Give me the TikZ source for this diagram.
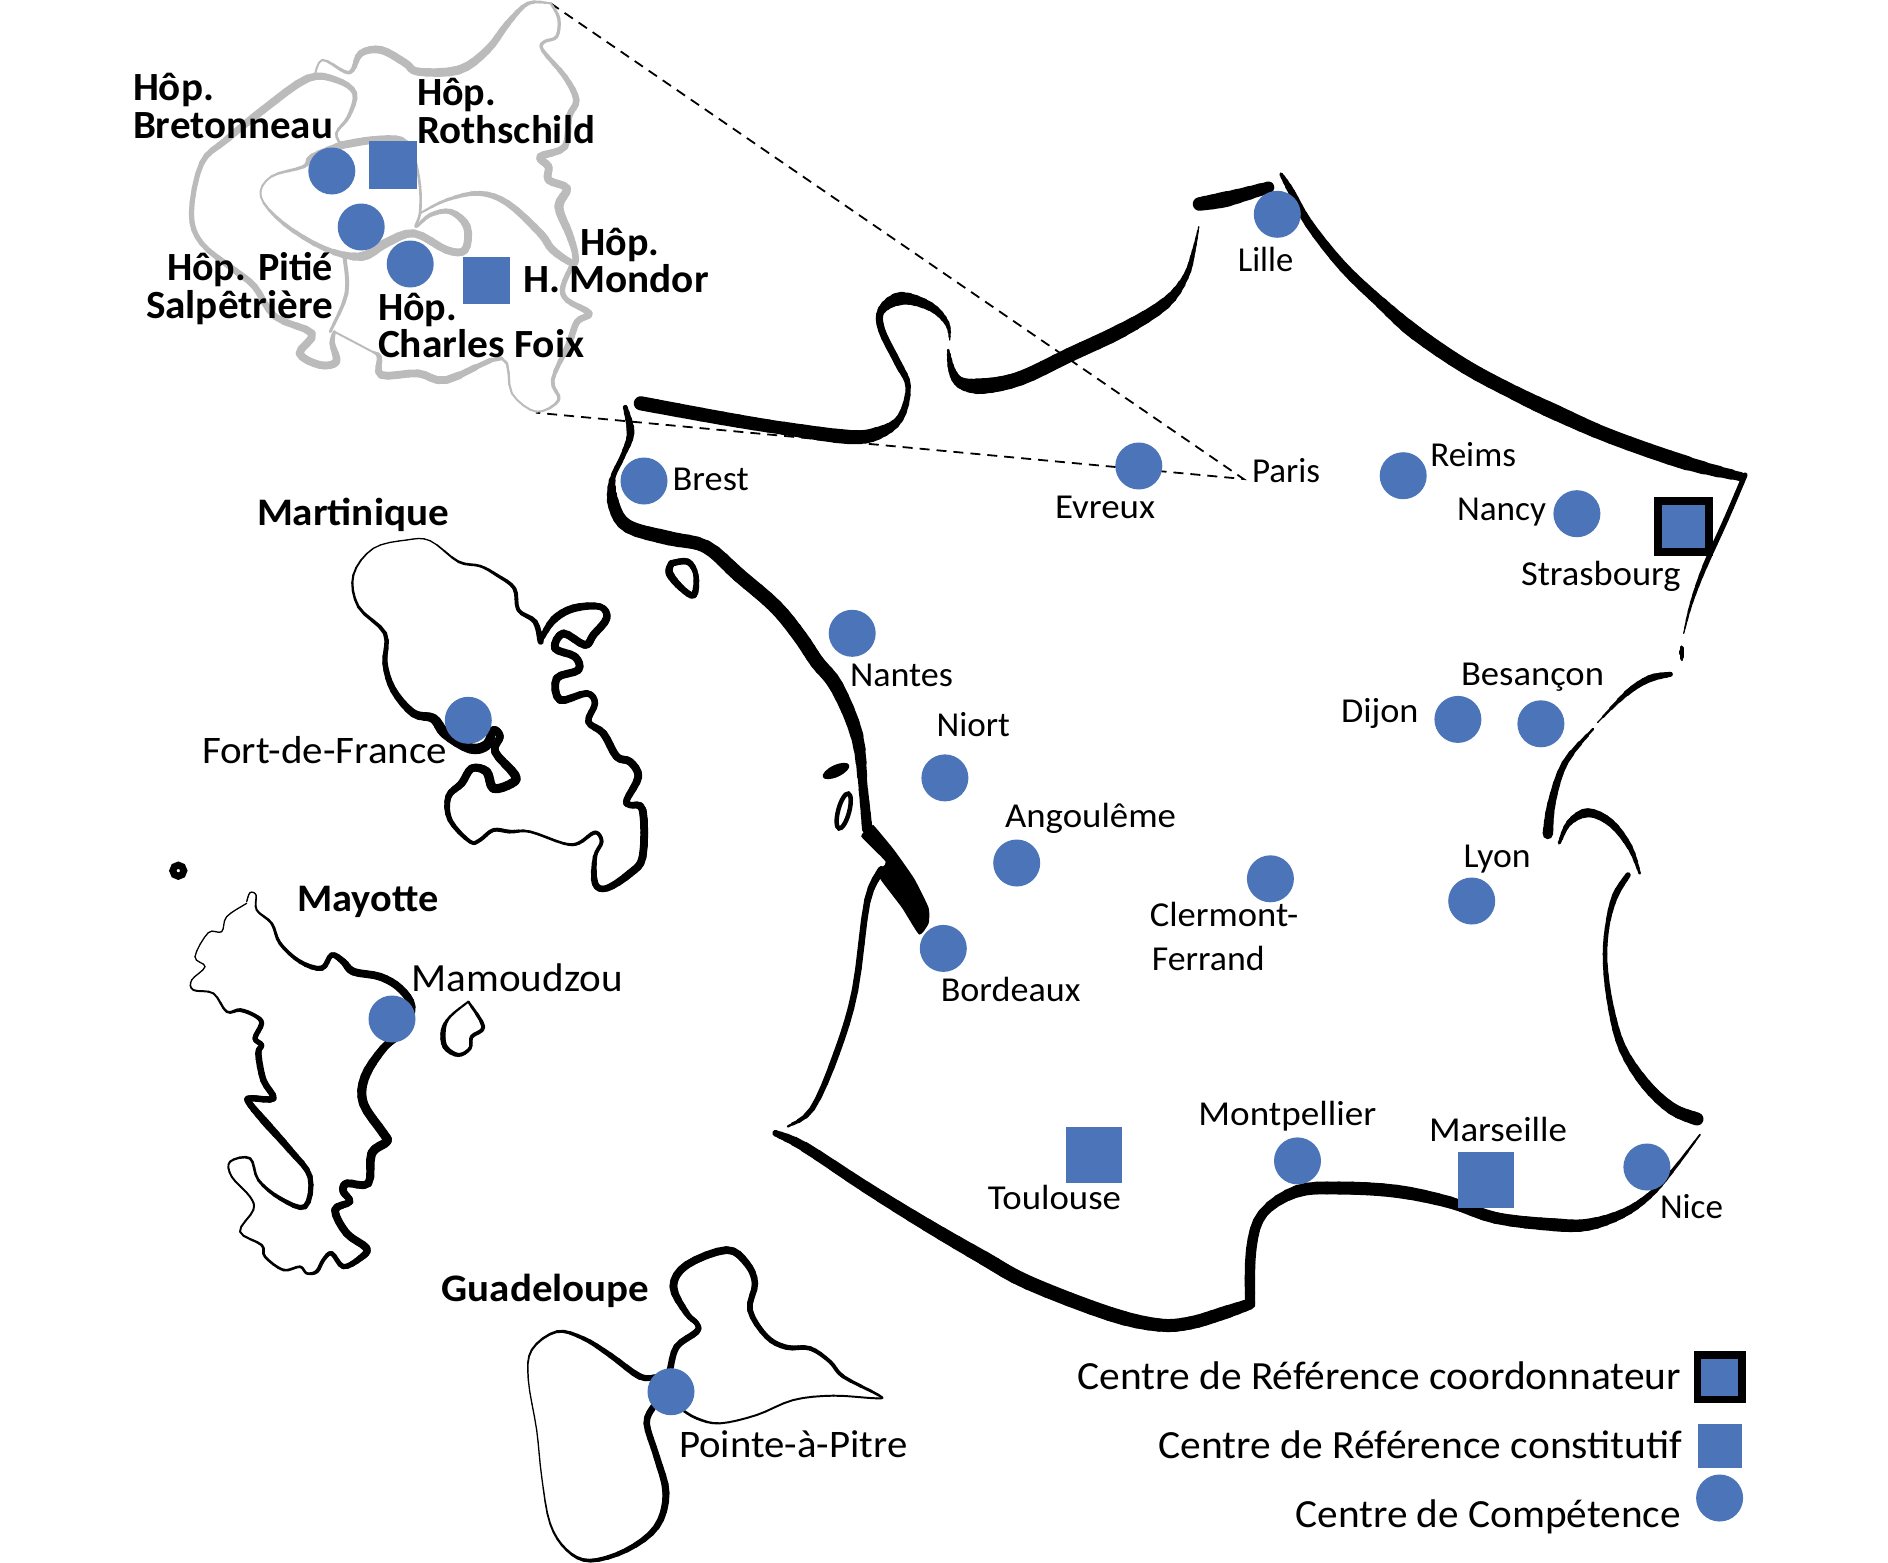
\documentclass[tikz,border=0pt]{standalone}
\usepackage{graphicx}
\usepackage{fontspec}
\setmainfont{Carlito}
\definecolor{cblue}{HTML}{4C75B9}
\definecolor{cgray}{HTML}{BBBBBB}
\tikzset{
  comp/.style={circle,fill=cblue,draw=none,minimum size=47pt,inner sep=0pt},
  crefsq/.style={rectangle,fill=cblue,draw=none,inner sep=0pt,minimum size=#1},
  coordsq/.style={rectangle,fill=cblue,draw=black,line width=8pt,inner sep=0pt,minimum size=#1},
  zoomline/.style={black,line width=1.8pt,dash pattern=on 10pt off 7pt},
  txt/.style={anchor=base west,inner sep=0pt,outer sep=0pt,text=black}
}
\def\bscale{1.3}
% one stretch of a variable-width stroke (Catmull-Rom)
\newcommand\bseg[1]{%
  \xdef\pLx{\pBx}\xdef\pLy{\pBy}%
  \foreach \tt in {0.25,0.5,0.75,1}{%
    \pgfmathsetmacro\px{\pBx+0.5*\tt*((\pCx-\pAx)+\tt*((2*\pAx-5*\pBx+4*\pCx-\pDx)+\tt*(3*\pBx-\pAx-3*\pCx+\pDx)))}%
    \pgfmathsetmacro\py{\pBy+0.5*\tt*((\pCy-\pAy)+\tt*((2*\pAy-5*\pBy+4*\pCy-\pDy)+\tt*(3*\pBy-\pAy-3*\pCy+\pDy)))}%
    \pgfmathsetmacro\pw{\bscale*(\pBw+\tt*(\pCw-\pBw))}%
    \draw[#1,line width=\pw pt,line cap=round] (\pLx,\pLy) -- (\px,\py);%
    \xdef\pLx{\px}\xdef\pLy{\py}%
  }%
}
% #1 colour, #2 #3 origin, #4 #5 divisors, #6 list x/y/width
\newcommand\brush[6]{%
  \gdef\bn{0}%
  \foreach \rx/\ry/\rw in {#6}{%
    \pgfmathsetmacro\tx{#2+\rx/#4}\pgfmathsetmacro\ty{#3+\ry/#5}%
    \ifnum\bn=0
      \xdef\pAx{\tx}\xdef\pAy{\ty}\xdef\pBx{\tx}\xdef\pBy{\ty}\xdef\pBw{\rw}\gdef\bn{1}%
    \else\ifnum\bn=1
      \xdef\pCx{\tx}\xdef\pCy{\ty}\xdef\pCw{\rw}\gdef\bn{2}%
    \else
      \xdef\pDx{\tx}\xdef\pDy{\ty}%
      \bseg{#1}%
      \xdef\pAx{\pBx}\xdef\pAy{\pBy}%
      \xdef\pBx{\pCx}\xdef\pBy{\pCy}\xdef\pBw{\pCw}%
      \xdef\pCx{\tx}\xdef\pCy{\ty}\xdef\pCw{\rw}%
    \fi\fi
  }%
  \xdef\pDx{\pCx}\xdef\pDy{\pCy}%
  \bseg{#1}%
}
% label: [font extras] name, x, baseline, width, size, text
\newcommand\lab[7][]{%
  \node[txt] (#2) at (#3,#4) {\resizebox{#5pt}{\height}{\fontsize{#6pt}{#6pt}\selectfont#1{}#7}};%
}
\begin{document}
\begin{tikzpicture}[x=1pt,y=-1pt]
\useasboundingbox (0,0) rectangle (1888,1563);
\fill[white] (0,0) rectangle (1888,1563);

% zoom lines
\coordinate (zt) at (550.6,3.3);
\coordinate (zb) at (536,412.7);
\coordinate (zp) at (1243.6,479);
\draw[zoomline] (zt) -- (zp) -- (zb);

% mainland coast
\brush{black}{0}{0}{1}{1}{640.8/403.3/11, 722.4/418.3/10.5, 783.7/428.3/10, 849/437/11, 877.6/433.3/10, 900/418.3/6, 908.2/386.7/4, 898/363.3/5.5, 881.6/330/5.5, 881.6/310/5.5, 902/298.3/10, 930.6/306.7/7, 947/323.3/4, 949.8/340/1}
\brush{black}{0}{0}{1}{1}{948.2/350/1, 951.8/370/5, 961/383/8, 983.7/386/12, 1020.4/378.3/11, 1069.4/355/11, 1122.4/330/11, 1165.3/303.3/9, 1185.7/276.7/5, 1193.9/250/3, 1198.8/226.7/1}
\brush{black}{1190}{170}{2.613}{3}{25/102/10, 100/86/12, 205/52/9}
\brush{black}{0}{0}{1}{1}{1281/174/2, 1291.4/191.7/5, 1308.6/223.3/6.5, 1343/266.7/7.5, 1381.4/303.3/8.5, 1415.8/333/11, 1465.5/366.7/11, 1515.3/393.3/11, 1557.4/413.3/12, 1611/436.7/11, 1687.5/463.3/11, 1741/476.7/7}
\brush{black}{0}{0}{1}{1}{1745/475/4, 1725.8/520/4, 1704.7/566.7/4, 1691.3/603.3/2.5, 1683.7/633.3/1}
\brush{black}{0}{0}{1}{1}{1681.8/647/2, 1681.8/653.3/4, 1681.8/660/2}
\brush{black}{0}{0}{1}{1}{1670.3/674.3/3.5, 1649.2/678.8/5.5, 1626.3/693.5/4.5, 1597.6/722.5/1}
\brush{black}{0}{0}{1}{1}{1593/729/1, 1565/762.7/4.5, 1551.6/802.9/6, 1547.8/834/8}
\brush{black}{0}{0}{1}{1}{1559.3/843/2, 1568.9/823/4, 1588/812.7/7, 1611/823/6, 1630/847.5/4.5, 1639.7/873.4/2}
\brush{black}{0}{0}{1}{1}{1628/875/4, 1614.8/896.6/5, 1607/928/3.5, 1605.2/963.6/3.5, 1611/1008/4.5, 1622.5/1048.4/6, 1645.4/1084/8, 1672/1108.7/9, 1697/1119/10}
\brush{black}{0}{0}{1}{1}{1700/1134.6/1, 1672.2/1171/2.5, 1649.2/1195.7/4.5, 1622.5/1213.6/6.5, 1588/1224.7/9, 1553.6/1224.7/10, 1496/1218/9, 1450/1202.4/9, 1396.7/1191.3/10, 1339/1188/10, 1297/1191.3/9.5, 1262.7/1213.6/7.5, 1251.2/1249.3/8, 1250/1302.9/8}
\brush{black}{0}{0}{1}{1}{1250/1304/8, 1220.6/1314/10, 1190/1323/10, 1159/1325/10, 1110/1314/11, 1028.6/1282.8/11, 983.7/1258/11, 926.5/1224.7/10, 865.3/1186.8/9, 804/1146.6/8, 775.5/1133.2/5}
\brush{black}{0}{0}{1}{1}{787.8/1126.5/1, 812.2/1108.7/4, 836.7/1052.9/5, 855/990.4/5, 867.3/901/5, 881.6/869.8/6}
\fill[black] plot[smooth cycle,tension=.3] coordinates {(873.5,825.2) (893.9,849.7) (914.3,878.8) (928.6,907.8) (928.6,923.4) (919.2,934.6) (902,907.8) (881.6,881) (877.6,872) (885.7,861.8) (861.2,836.3) (871.4,827.4)};
\brush{black}{0}{0}{1}{1}{625.3/407.3/3, 630.6/433.3/6, 622.4/456.7/4, 612.2/480/4, 614.3/506.7/9, 628.6/526.7/10, 669.4/538.3/11, 706/546.7/10, 738.8/575/11, 775.5/606.7/11, 800/636.7/11, 817/662/11, 836.7/686.8/11, 857/735.9/10, 863.3/789.5/7, 867.3/829.6/8}

% coastal islands
\brush{black}{0}{0}{1}{1}{671.4/563.3/5, 687.8/561.7/5, 695.9/575/4, 693.9/595/5, 681.6/588.3/5, 669.4/573.3/6, 671.4/563.3/5}
\fill[black,rotate around={25:(836,771)}] (836,771) ellipse [x radius=14.5,y radius=6];
\draw[black,line width=4.5pt,rotate around={75:(843.7,811)}] (843.7,811) ellipse [x radius=18,y radius=5.5];
\draw[black,line width=7pt] (178.3,870.7) ellipse [x radius=5.5,y radius=5.5];

% Paris region
\brush{cgray}{120}{0}{2.45}{3}{1055/10/1.5, 1075/55/2.5, 1070/110/2.5, 1040/125/2.5, 1035/150/2.5, 1090/230/4, 1118/300/5, 1100/350/5, 1090/440/5, 1030/470/6, 1050/500/6, 1050/540/6, 1095/565/6, 1075/620/7, 1100/700/6, 1115/760/5, 1110/790/5, 1060/750/6, 1030/700/6, 950/610/5, 880/580/4, 800/600/2.5, 735/640/1.5}
\brush{cgray}{120}{0}{2.45}{3}{1110/790/4, 1085/860/4, 1095/900/4, 1150/940/5, 1120/965/5, 1100/1030/5, 1060/1140/3, 1075/1200/2.5, 1020/1235/1.5, 960/1180/1.5, 935/1075/2, 800/1140/6, 730/1120/6, 640/1125/6, 635/1070/4, 610/1050/1.5, 525/995/1.5}
\brush{cgray}{120}{0}{2.45}{3}{525/995/2, 520/1030/4, 530/1085/6, 490/1095/6, 440/1060/6, 470/1000/6, 380/950/5, 330/860/5, 280/810/5, 200/730/4, 175/640/4, 200/490/4, 260/420/5, 350/330/6, 460/235/6, 530/240/5, 575/280/4, 560/350/3, 530/400/2, 545/440/2}
\brush{cgray}{120}{0}{2.45}{3}{515/995/2, 555/880/3, 550/770/3}
\brush{cgray}{120}{0}{2.45}{3}{475/235/1.5, 495/180/1.5, 550/215/2.5, 570/210/3, 590/160/5, 640/150/6, 700/190/6, 730/215/6, 830/210/7, 900/150/6, 950/70/5, 1000/10/3, 1055/10/1.5}
\brush{cgray}{120}{0}{2.45}{3}{545/435/6, 620/420/6, 690/420/5, 720/470/2, 735/560/2, 735/640/2, 725/680/2, 760/645/3, 810/635/4, 850/680/6, 845/750/6, 800/750/6, 720/700/6, 650/730/7, 590/770/7, 500/745/4, 400/670/3, 345/590/1.5, 370/530/1.5, 450/500/2.5, 470/470/4, 545/435/6}

% Martinique
\brush{black}{330}{500}{3}{3}{632/425/5, 615/365/4, 565/330/3, 553/265/3, 500/225/2.5, 450/198/2, 385/185/2, 300/122/1, 230/120/1, 130/145/1, 70/225/1.5, 85/320/2, 165/400/3, 165/490/4, 190/570/5, 250/640/6, 310/655/7, 345/700/8, 420/745/8, 470/735/8, 490/690/6, 510/710/6, 495/755/6, 555/825/7, 545/850/7, 490/865/7, 470/815/7, 425/805/6, 395/850/6, 355/890/5, 360/960/4, 420/1025/3, 450/1020/3, 490/990/3, 540/995/3, 600/995/2, 700/1030/2, 745/1030/2.5, 795/997/3, 815/1025/3, 795/1070/3, 795/1150/5, 830/1165/5, 900/1120/6, 938/1070/6, 938/930/6, 900/915/5, 890/900/5, 925/830/6, 900/785/6, 860/770/6, 820/700/6, 775/665/5, 795/610/5, 770/580/5, 690/600/6, 680/535/6, 745/510/6, 735/470/6, 675/445/6, 700/400/6, 765/435/6, 790/405/6, 830/355/6, 810/320/5, 730/325/6, 670/360/6, 632/420/4}

% Mayotte
\brush{black}{150}{840}{3}{3}{290/185/1, 300/158/1, 318/165/1, 320/210/1.5, 365/250/2, 390/310/2.5, 450/365/3, 515/385/4, 545/345/4, 580/365/5, 610/395/6, 690/410/6, 750/445/6, 785/500/6, 760/570/6, 700/625/6, 645/710/7, 640/790/7, 700/880/7, 710/905/7, 665/940/7, 655/1030/6, 590/1030/6, 580/1055/6, 600/1085/5, 555/1110/6, 590/1180/6, 650/1225/6, 630/1255/5, 580/1280/4, 545/1240/3.5, 520/1260/3, 500/1295/3, 470/1300/2, 450/1280/2, 400/1290/2, 345/1250/2, 335/1215/2, 270/1175/1.5, 310/1110/1.5, 300/1070/1.5, 245/1010/1.5, 240/965/1.5, 300/955/2, 325/1020/2, 390/1075/3, 465/1100/4, 480/1010/4, 420/930/5, 340/840/6, 295/785/5, 305/775/5, 370/775/5, 340/720/5, 325/640/5, 335/615/4, 315/595/4, 335/550/4, 315/527/3, 270/510/3, 230/515/2, 190/460/1.5, 130/450/1.5, 125/420/1, 165/380/1, 135/350/1, 175/278/1, 215/275/1, 230/230/1, 290/190/1}
\brush{black}{150}{840}{3}{3}{955/485/1.5, 1000/560/3, 965/590/3, 960/625/2.5, 925/645/3, 885/620/4, 880/570/4, 900/530/2, 955/485/1.5}

% Guadeloupe
\brush{black}{500}{1230}{3}{3}{460/530/5, 440/580/5, 470/680/5, 498/790/5.5, 470/890/5, 380/960/4, 270/992/3, 200/960/2, 150/880/1.5, 125/740/1, 110/600/1, 85/450/1, 95/360/1.5, 170/305/2, 250/325/3, 330/375/4, 420/440/5, 470/440/4}
\brush{black}{500}{1230}{3}{3}{510/420/5, 530/350/5, 590/305/5, 590/280/4, 560/250/4.5, 520/170/6, 560/105/6, 680/60/6, 740/100/5.5, 765/160/5, 750/240/4.5, 800/320/4, 860/352/4, 930/355/3.5, 990/395/3, 1030/440/3, 1135/495/2, 1130/505/1.5, 1000/497/1.5, 880/510/1.5, 770/555/1.5, 660/580/1.5, 590/565/2, 540/535/2}

% centres
\node[comp] (c1) at (331.8,171) {};
\node[comp] (c2) at (361.2,227) {};
\node[comp] (c3) at (410.2,264) {};
\node[crefsq=47.5pt] (s1) at (393,165) {};
\node[crefsq=47.5pt] (s2) at (486.5,280.5) {};
\node[comp] (brest) at (644,481) {};
\node[comp] (evreux) at (1138.8,466) {};
\node[comp] (nantes) at (852.2,633.3) {};
\node[comp] (lille) at (1277.3,214.3) {};
\node[comp] (reims) at (1403.2,475.7) {};
\node[comp] (nancy) at (1576.9,513.7) {};
\node[coordsq=51pt] (strasbourg) at (1683,526.5) {};
\node[comp] (niort) at (944.9,777.9) {};
\node[comp] (angouleme) at (1016.7,863) {};
\node[comp] (bordeaux) at (943.3,948.4) {};
\node[crefsq=56pt] (toulouse) at (1093.5,1155) {};
\node[comp] (dijon) at (1457.9,719.4) {};
\node[comp] (besancon) at (1540.9,723.8) {};
\node[comp] (clermont) at (1270.4,878.8) {};
\node[comp] (lyon) at (1471.7,901) {};
\node[comp] (montpellier) at (1297.5,1160.9) {};
\node[crefsq=56pt] (marseille) at (1485.5,1180) {};
\node[comp] (nice) at (1646.9,1167) {};
\node[comp] (fdf) at (468.3,720.3) {};
\node[comp] (mamoudzou) at (392,1019) {};
\node[comp] (pap) at (671,1391.7) {};
\node[coordsq=44.5pt,line width=7.5pt] (leg1) at (1719.8,1377.2) {};
\node[crefsq=44pt] (leg2) at (1719.5,1446.3) {};
\node[comp] (leg3) at (1719.6,1498) {};

% labels
\lab[\bfseries]{l1}{133}{100}{81}{40}{Hôp.}
\lab[\bfseries]{l2}{133}{138}{200}{40}{Bretonneau}
\lab[\bfseries]{l3}{417}{105.3}{79}{40}{Hôp.}
\lab[\bfseries]{l4}{417}{143}{178}{40}{Rothschild}
\lab[\bfseries]{l5}{167}{280}{166}{40}{Hôp. Pitié}
\lab[\bfseries]{l6}{146}{318}{187}{40}{Salpêtrière}
\lab[\bfseries]{l7}{580.4}{255}{79}{40}{Hôp.}
\lab[\bfseries]{l8}{523}{292.7}{185.6}{40}{H. Mondor}
\lab[\bfseries]{l9}{378}{320}{79}{40}{Hôp.}
\lab[\bfseries]{l10}{378}{357}{206.5}{40}{Charles Foix}
\lab{lbrest}{672.7}{490}{76}{35}{Brest}
\lab{levreux}{1055}{518}{100}{35}{Evreux}
\lab{llille}{1237.8}{271.7}{55.5}{35}{Lille}
\lab{lparis}{1252}{482.7}{68}{35}{Paris}
\lab{lreims}{1430.3}{466.7}{85.7}{35}{Reims}
\lab{lnancy}{1457}{520.7}{89}{35}{Nancy}
\lab{lstras}{1521}{585}{159.6}{35}{Strasbourg}
\lab{lnantes}{850}{686}{103}{35}{Nantes}
\lab{lniort}{936.7}{736.8}{73.3}{35}{Niort}
\lab{langou}{1005}{827.4}{171}{35}{Angoulême}
\lab{lbord}{940.8}{1001.5}{139.6}{35}{Bordeaux}
\lab{ltoul}{987.8}{1209}{133.2}{35}{Toulouse}
\lab{lcler}{1149.8}{926.5}{148.5}{35}{Clermont-}
\lab{lferr}{1151.8}{970}{112.8}{35}{Ferrand}
\lab{lbesa}{1461}{685.4}{143}{35}{Besançon}
\lab{ldijon}{1341}{722.5}{77.5}{35}{Dijon}
\lab{llyon}{1463.6}{867.6}{67}{35}{Lyon}
\lab{lmont}{1198.4}{1125.6}{178}{35}{Montpellier}
\lab{lmars}{1429}{1141}{138}{35}{Marseille}
\lab{lnice}{1660}{1218}{63}{35}{Nice}
\lab[\bfseries]{lmart}{257}{525}{192}{39}{Martinique}
\lab{lfdf}{202}{763}{245}{39}{Fort-de-France}
\lab[\bfseries]{lmay}{297.3}{911}{141}{39}{Mayotte}
\lab{lmam}{411.7}{991.7}{211}{40}{Mamoudzou}
\lab[\bfseries]{lgua}{441.7}{1301.7}{207.6}{39}{Guadeloupe}
\lab{lpap}{679}{1457.3}{228.3}{39}{Pointe-à-Pitre}
\lab{lleg1}{1077.4}{1389.3}{603.4}{40}{Centre de Référence coordonnateur}
\lab{lleg2}{1158.7}{1458.3}{523.3}{40}{Centre de Référence constitutif}
\lab{lleg3}{1295.5}{1527.7}{385.3}{40}{Centre de Compétence}
\end{tikzpicture}
\end{document}
